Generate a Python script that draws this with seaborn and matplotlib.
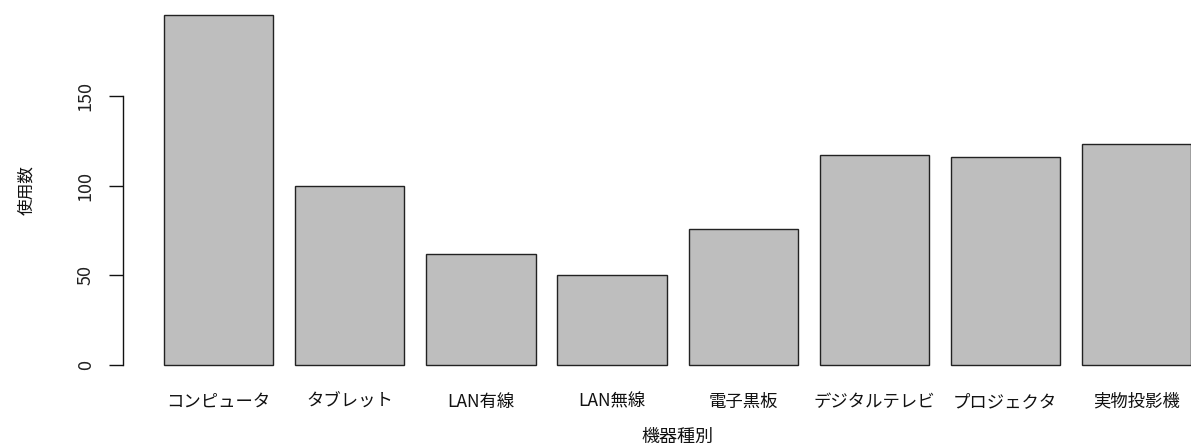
import matplotlib
matplotlib.use("Agg")
import matplotlib.pyplot as plt
import seaborn as sns
import pandas as pd

# Device usage counts by type
categories = ["コンピュータ", "タブレット", "LAN有線", "LAN無線", "電子黒板",
              "デジタルテレビ", "プロジェクタ", "実物投影機"]
counts = [195, 100, 62, 50, 76, 117, 116, 123]
yticks = [0, 50, 100, 150]

df = pd.DataFrame({"機器種別": categories, "使用数": counts})

sns.set_style("white")
plt.rcParams["font.family"] = ["Noto Sans CJK JP", "DejaVu Sans"]

W, H = 1191, 444
fig = plt.figure(figsize=(W / 100, H / 100), dpi=100)
# plot region in pixel terms (left, top, right, bottom)
left_px, top_px, right_px, bottom_px = 122.5, 1.0, 1232.0, 379.0
ax = fig.add_axes([left_px / W, (H - bottom_px) / H,
                   (right_px - left_px) / W, (bottom_px - top_px) / H])

sns.barplot(data=df, x="機器種別", y="使用数", order=categories,
            color="#BEBEBE", saturation=1, width=1 / 1.2,
            edgecolor="#222222", linewidth=1.0, ax=ax)

ax.set_xlim(-0.734, -0.734 + (right_px - left_px) / 131.1)
ax.set_ylim(-7.8, 202.8)

for s in ["top", "right", "bottom"]:
    ax.spines[s].set_visible(False)
ax.spines["left"].set_bounds(0, 150)
ax.spines["left"].set_linewidth(1.0)
ax.spines["left"].set_color("#111111")

ax.set_yticks(yticks)
ax.set_yticklabels([str(v) for v in yticks], rotation=90, va="center",
                   fontsize=13, color="#222222")
ax.tick_params(axis="y", length=10, width=1.0, color="#111111", pad=10,
               left=True)
ax.tick_params(axis="x", length=0, pad=10, labelsize=12.5, labelcolor="#111111")

ax.set_xlabel("機器種別", fontsize=13, color="#111111", labelpad=12)
ax.set_ylabel("使用数", fontsize=12, color="#111111", labelpad=30)

fig.savefig("out.png", dpi=100)
